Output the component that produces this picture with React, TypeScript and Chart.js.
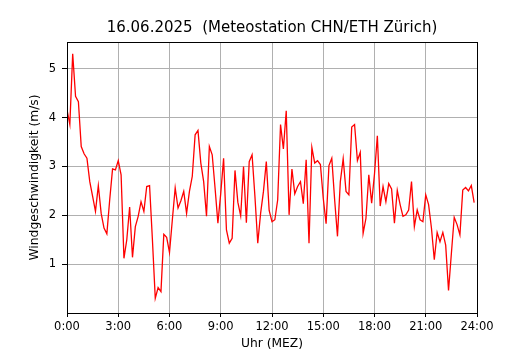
import React, { useEffect, useRef } from "react";
import { Chart, registerables } from "chart.js";

Chart.register(...registerables);

const TITLE = "16.06.2025  (Meteostation CHN/ETH Zürich)";
const X_LABEL = "Uhr (MEZ)";
const Y_LABEL = "Windgeschwindigkeit (m/s)";
const STEP_MINUTES = 10;
const X_TICKS = [0, 3, 6, 9, 12, 15, 18, 21, 24];
const Y_TICKS = [1, 2, 3, 4, 5];
const WIND = [
  4.16, 3.86, 5.31, 4.44, 4.33, 3.41, 3.26, 3.17, 2.69, 2.39, 2.08, 2.61,
  2.04, 1.74, 1.62, 2.32, 2.95, 2.93, 3.12, 2.83, 1.12, 1.5, 2.17, 1.14,
  1.77, 1.98, 2.28, 2.08, 2.59, 2.61, 1.5, 0.3, 0.52, 0.44, 1.61, 1.55,
  1.24, 1.91, 2.56, 2.15, 2.3, 2.49, 2.04, 2.49, 2.8, 3.65, 3.74, 3.07,
  2.69, 1.98, 3.41, 3.24, 2.56, 1.84, 2.45, 3.17, 1.7, 1.43, 1.53, 2.92,
  2.27, 1.99, 3.0, 1.85, 3.1, 3.24, 2.39, 1.43, 2.04, 2.49, 3.1, 2.1,
  1.87, 1.91, 2.32, 3.86, 3.36, 4.14, 2.01, 2.95, 2.44, 2.59, 2.69, 2.24,
  3.14, 1.43, 3.39, 3.07, 3.12, 3.04, 2.35, 1.83, 3.02, 3.17, 2.32, 1.57,
  2.69, 3.16, 2.49, 2.42, 3.81, 3.86, 3.12, 3.29, 1.63, 1.94, 2.83, 2.25,
  2.85, 3.63, 2.19, 2.59, 2.28, 2.65, 2.54, 1.84, 2.51, 2.22, 1.98, 2.01,
  2.11, 2.69, 1.77, 2.11, 1.91, 1.87, 2.42, 2.22, 1.74, 1.09, 1.65, 1.46,
  1.65, 1.39, 0.46, 1.22, 1.96, 1.81, 1.6, 2.52, 2.57, 2.5, 2.61, 2.26,
];

const FONT = "'DejaVu Sans', sans-serif";

const frame = {
  id: "frame",
  afterDraw(chart: any) {
    const { ctx, chartArea: a } = chart;
    ctx.save();
    ctx.strokeStyle = "#000";
    ctx.lineWidth = 1;
    ctx.strokeRect(Math.round(a.left) + 0.5, Math.round(a.top) + 0.5, Math.round(a.right - a.left), Math.round(a.bottom - a.top));
    ctx.restore();
  },
};

export default function App() {
  const ref = useRef<HTMLCanvasElement | null>(null);
  useEffect(() => {
    const points = WIND.map((v, i) => ({ x: (i * STEP_MINUTES) / 60, y: v }));
    const chart = new Chart(ref.current as HTMLCanvasElement, {
      type: "line",
      data: {
        datasets: [
          {
            data: points,
            borderColor: "#ff0000",
            borderWidth: 1.3,
            pointRadius: 0,
            tension: 0,
            fill: false,
          },
        ],
      },
      plugins: [frame],
      options: {
        animation: false,
        responsive: false,
        devicePixelRatio: 1,
        layout: { padding: { top: 0, right: 53, bottom: 0, left: 0 } },
        plugins: {
          legend: { display: false },
          tooltip: { enabled: false },
          title: {
            display: true,
            text: TITLE,
            fullSize: false,
            color: "#000",
            font: { family: FONT, size: 15, weight: "normal", lineHeight: 1.2 },
            padding: { top: 19, bottom: 5 },
          },
        },
        scales: {
          x: {
            type: "linear",
            min: 0,
            max: 24,
            afterBuildTicks: (s: any) => {
              s.ticks = X_TICKS.map((v) => ({ value: v }));
            },
            afterFit: (s: any) => {
              s.height = 37;
            },
            ticks: {
              color: "#000",
              font: { family: FONT, size: 11.5 },
              padding: 3,
              maxRotation: 0,
              autoSkip: false,
              callback: (v: any) => `${v}:00`,
            },
            grid: { color: "#b0b0b0", lineWidth: 1, tickColor: "#000", tickLength: 4 },
            border: { color: "#000", width: 1 },
            title: {
              display: true,
              text: X_LABEL,
              color: "#000",
              font: { family: FONT, size: 12.3, lineHeight: 1 },
              padding: { top: 0, bottom: 0 },
            },
          },
          y: {
            type: "linear",
            min: 0,
            max: 5.55,
            afterBuildTicks: (s: any) => {
              s.ticks = Y_TICKS.map((v) => ({ value: v }));
            },
            afterFit: (s: any) => {
              s.width = 67;
            },
            ticks: {
              color: "#000",
              font: { family: FONT, size: 11.5 },
              padding: 6,
            },
            grid: { color: "#b0b0b0", lineWidth: 1, tickColor: "#000", tickLength: 5 },
            border: { color: "#000", width: 1 },
            title: {
              display: true,
              text: Y_LABEL,
              color: "#000",
              font: { family: FONT, size: 12.3, lineHeight: 1 },
              padding: { top: 29, bottom: 0 },
            },
          },
        },
      },
    });
    return () => chart.destroy();
  }, []);
  return (
    <div style={{ position: "absolute", left: 0, top: 0, width: 530, height: 350, background: "#fff" }}>
      <canvas ref={ref} width={530} height={350} style={{ display: "block", width: 530, height: 350 }} />
    </div>
  );
}
